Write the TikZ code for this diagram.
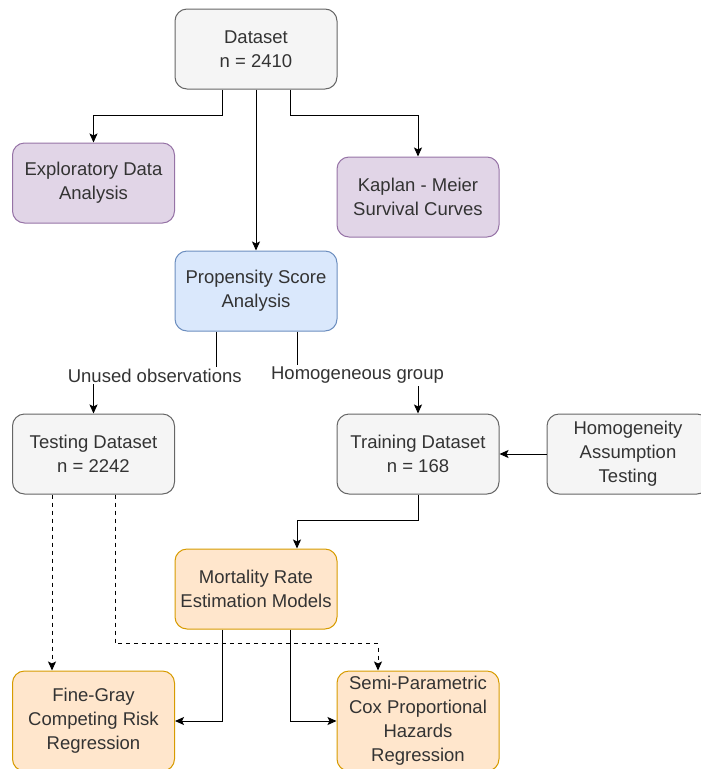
\documentclass[tikz,border=0pt]{standalone}
\usepackage{fontspec}
\setmainfont{Liberation Sans}
\usetikzlibrary{arrows.meta}
\definecolor{gfill}{HTML}{F5F5F5}
\definecolor{gline}{HTML}{666666}
\definecolor{pfill}{HTML}{E1D5E7}
\definecolor{pline}{HTML}{9673A6}
\definecolor{bfill}{HTML}{DAE8FC}
\definecolor{bline}{HTML}{6C8EBF}
\definecolor{ofill}{HTML}{FFE6CC}
\definecolor{oline}{HTML}{D79B00}
\definecolor{txt}{HTML}{333333}
\tikzset{
  box/.style={rounded corners=12pt, draw, line width=1pt, minimum width=162pt, minimum height=80pt,
    align=center, inner sep=2pt, font=\fontsize{18.5}{24}\selectfont, text=txt},
  graybox/.style={box, fill=gfill, draw=gline},
  purplebox/.style={box, fill=pfill, draw=pline},
  bluebox/.style={box, fill=bfill, draw=bline},
  orangebox/.style={box, fill=ofill, draw=oline},
  conn/.style={line width=1pt, draw=black, -{Stealth[length=9pt,width=8pt,inset=2pt]}},
  dconn/.style={conn, dash pattern=on 4pt off 4pt},
  lbl/.style={fill=white, inner sep=2pt, text=txt, font=\fontsize{18.5}{24}\selectfont}
}
\begin{document}
\begin{tikzpicture}[x=1pt,y=-1pt]
\useasboundingbox (0,0) rectangle (701,769);
\node[graybox] (ds) at (256,49) {Dataset\\n = 2410};
\node[purplebox] (eda) at (93.5,183) {Exploratory Data\\Analysis};
\node[purplebox] (km) at (418,197) {Kaplan - Meier\\Survival Curves};
\node[bluebox] (ps) at (256,291) {Propensity Score\\Analysis};
\node[graybox] (te) at (93.5,454) {Testing Dataset\\n = 2242};
\node[graybox] (tr) at (418,454) {Training Dataset\\n = 168};
\node[graybox] (hom) at (628,454) {Homogeneity\\Assumption\\Testing};
\node[orangebox] (mr) at (256,589) {Mortality Rate\\Estimation Models};
\node[orangebox, minimum height=100pt] (fg) at (93.5,721) {Fine-Gray\\Competing Risk\\Regression};
\node[orangebox, minimum height=100pt] (sp) at (418,721) {Semi-Parametric\\Cox Proportional\\Hazards\\Regression};

\draw[conn] ([xshift=-34pt]ds.south) -- ++(0,26) -| (eda.north);
\draw[conn] (ds.south) -- (ps.north);
\draw[conn] ([xshift=34pt]ds.south) -- ++(0,26) -| (km.north);
\draw[conn] ([xshift=-40pt]ps.south) -- ++(0,44) -| node[lbl, pos=0.25] {Unused observations} (te.north);
\draw[conn] ([xshift=41pt]ps.south) -- ++(0,44) -| node[lbl, pos=0.25] {Homogeneous group} (tr.north);
\draw[conn] (hom.west) -- (tr.east);
\draw[conn] (tr.south) -- ++(0,26) -| ([xshift=41pt]mr.north);
\draw[dconn] ([xshift=-41.5pt]te.south) -- ([xshift=-41.5pt]fg.north);
\draw[dconn] ([xshift=21.5pt]te.south) -- ++(0,149) -| ([xshift=-40pt]sp.north);
\draw[conn] ([xshift=-34pt]mr.south) |- (fg.east);
\draw[conn] ([xshift=34pt]mr.south) |- (sp.west);
\end{tikzpicture}
\end{document}
